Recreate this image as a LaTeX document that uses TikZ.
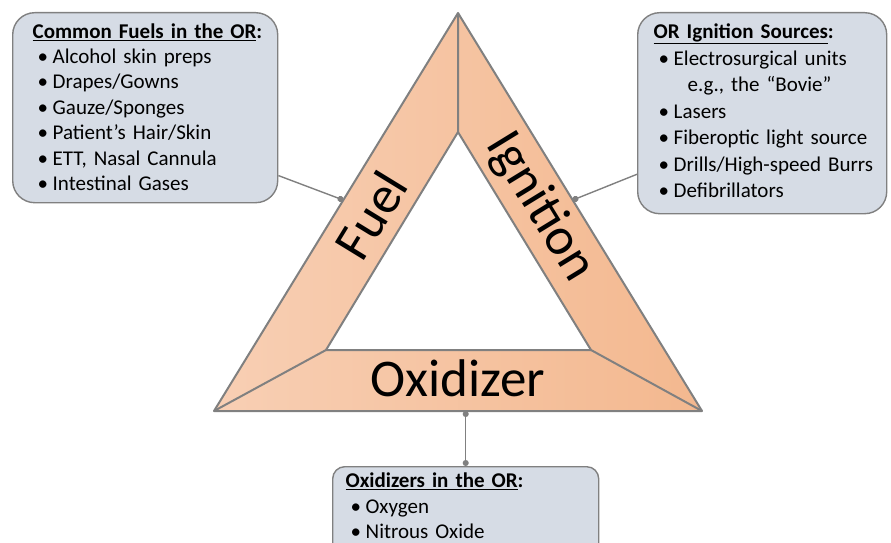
\documentclass[tikz,border=0pt]{standalone}
\usepackage{fontspec}
\setmainfont{Carlito}[WordSpace=0.8]
\usetikzlibrary{calc,arrows.meta}
\definecolor{peachlight}{RGB}{248,207,180}
\definecolor{peachdark}{RGB}{243,184,143}
\definecolor{boxfill}{RGB}{214,220,229}
\definecolor{linegray}{RGB}{128,128,128}

\newcommand{\boxtitle}[1]{\textbf{\underline{#1}:}}
\newcommand{\boxitem}[1]{\mbox{\makebox[20pt][l]{\hspace{5pt}\textbullet}#1}}

\begin{document}
\begin{tikzpicture}[x=1pt, y=1pt,
	infobox/.style={draw=linegray, line width=1.4pt, fill=boxfill, anchor=north west,
		align=left, inner ysep=0pt, rounded corners=22pt,
		font=\fontsize{21}{25.4}\selectfont},
	bandline/.style={draw=linegray, line width=2pt, line join=round},
	pinline/.style={draw=linegray, line width=1.4pt},
	bigword/.style={font=\fontsize{53}{60}\selectfont, inner sep=0pt}]
	\useasboundingbox (0,0) rectangle (891,542);
	\clip (0,0) rectangle (891,542);

	% the fire triangle
	\coordinate (otop) at (458,529);
	\coordinate (obl) at (214,131);
	\coordinate (obr) at (702,131);
	\coordinate (itop) at (458,410);
	\coordinate (ibl) at (326,192);
	\coordinate (ibr) at (591,192);
	\shade[left color=peachlight, right color=peachdark] (otop) -- (obr) -- (obl) -- cycle;
	\fill[white] (itop) -- (ibr) -- (ibl) -- cycle;
	\draw[bandline] (otop) -- (obr) -- (obl) -- cycle;
	\draw[bandline] (itop) -- (ibr) -- (ibl) -- cycle;
	\draw[bandline] (otop) -- (itop) (obl) -- (ibl) (obr) -- (ibr);

	\node[bigword, rotate=58.5] (fuelword) at (371,327) {Fuel};
	\node[bigword, rotate=-58.5] (ignword) at (540,335) {Ignition};
	\node[bigword] (oxword) at (458,163.5) {Oxidizer};

	% the three boxes
	\node[infobox, text width=225pt, inner xsep=20pt, text height=25.5pt, text depth=164.5pt] (fuelbox) at (12,530)
		{\boxtitle{Common Fuels in the OR}\\
		 \boxitem{Alcohol skin preps}\\
		 \boxitem{Drapes/Gowns}\\
		 \boxitem{Gauze/Sponges}\\
		 \boxitem{Patient’s Hair/Skin}\\
		 \boxitem{ETT, Nasal Cannula}\\
		 \boxitem{Intestinal Gases}};
	\node[infobox, text width=217pt, inner xsep=16pt, text height=26pt, text depth=175pt,
		font=\fontsize{21}{26.5}\selectfont] (ignbox) at (637,530)
		{\boxtitle{OR Ignition Sources}\\
		 \boxitem{Electrosurgical units}\\
		 \hspace*{34pt}e.g., the “Bovie”\\
		 \boxitem{Lasers}\\
		 \boxitem{Fiberoptic light source}\\
		 \boxitem{Drills/High-speed Burrs}\\
		 \boxitem{Defibrillators}};
	\node[infobox, text width=240pt, inner xsep=13pt, text height=21pt, text depth=85pt,
		rounded corners=12pt] (oxbox) at (332,76)
		{\boxtitle{Oxidizers in the OR}\\
		 \boxitem{Oxygen}\\
		 \boxitem{Nitrous Oxide}};

	% pins
	\coordinate (fuelpin) at ($(otop)!0.47!(obl)$);
	\coordinate (ignpin) at ($(otop)!0.47!(obr)$);
	\coordinate (oxpin) at (oxbox.north |- obl);
	\draw[pinline, -{Circle[length=6pt]}] (fuelbox.-27) -- (fuelpin);
	\draw[pinline, -{Circle[length=6pt]}] (ignbox.206) -- (ignpin);
	\draw[pinline, {Circle[length=6pt]}-{Circle[length=6pt]}] (oxbox.north) -- (oxpin);
\end{tikzpicture}
\end{document}
